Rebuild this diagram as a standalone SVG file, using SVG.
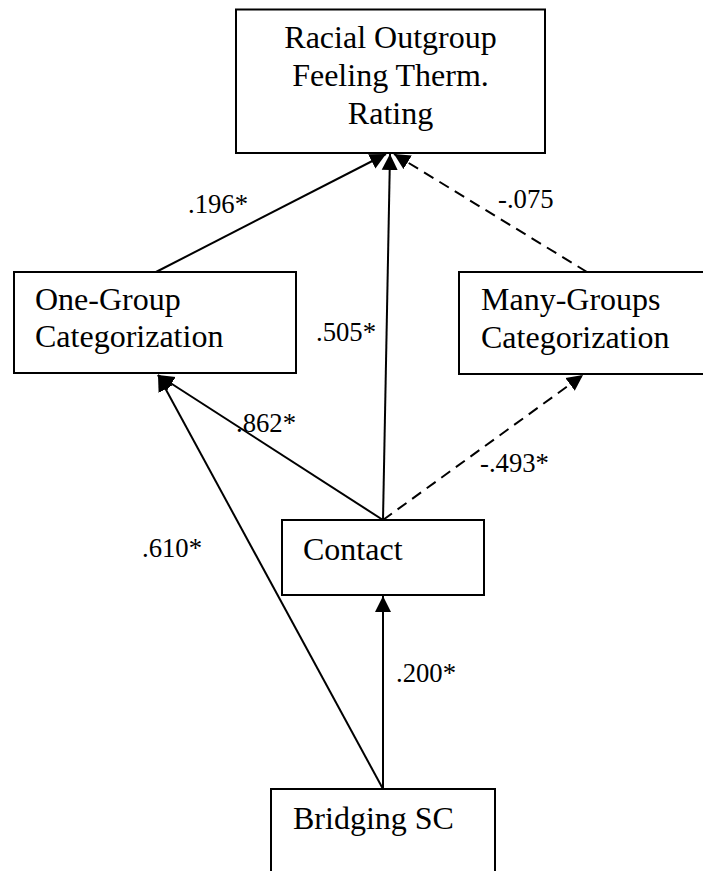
<svg xmlns="http://www.w3.org/2000/svg" width="703" height="871" viewBox="0 0 703 871">
  <style>
    .box { fill: #ffffff; stroke: #000000; stroke-width: 2; }
    .node { font-family: "Liberation Serif", "Times New Roman", serif; font-size: 32px; fill: #000000; }
    .coef { font-family: "Liberation Serif", "Times New Roman", serif; font-size: 26.7px; fill: #000000; }
    .path { fill: none; stroke: #000000; stroke-width: 2; }
    .dashed { stroke-dasharray: 11 7; }
  </style>
  <defs>
    <marker id="arrow" markerUnits="userSpaceOnUse" markerWidth="18" markerHeight="17" viewBox="0 0 18 17" refX="16" refY="8.5" orient="auto">
      <path d="M0,0.5 L16,8.5 L0,16.5 Z" fill="#000000" stroke="none"/>
    </marker>
  </defs>

  <rect width="703" height="871" fill="#ffffff"/>

  <!-- path coefficients and connectors -->
  <g id="connectors">
    <path class="path" d="M156,272 L386,154" marker-end="url(#arrow)"/>
    <path class="path" d="M383,520 L390,154" marker-end="url(#arrow)"/>
    <path class="path dashed" d="M587,272 L394,154" marker-end="url(#arrow)"/>
    <path class="path" d="M383,520 L158,375" marker-end="url(#arrow)"/>
    <path class="path" d="M383,789 L158,375" marker-end="url(#arrow)"/>
    <path class="path dashed" d="M383,520 L583,375" marker-end="url(#arrow)"/>
    <path class="path" d="M383,789 L383,596" marker-end="url(#arrow)"/>

    <text class="coef" x="188" y="213">.196*</text>
    <text class="coef" x="498" y="208">-.075</text>
    <text class="coef" x="316" y="341">.505*</text>
    <text class="coef" x="236" y="432">.862*</text>
    <text class="coef" x="480" y="472">-.493*</text>
    <text class="coef" x="142" y="557">.610*</text>
    <text class="coef" x="396" y="682">.200*</text>
  </g>

  <g id="rating">
    <rect class="box" x="236" y="9.5" width="309" height="143.5"/>
    <text class="node" x="390.5" y="48" text-anchor="middle">Racial Outgroup</text>
    <text class="node" x="390.5" y="86" text-anchor="middle">Feeling Therm.</text>
    <text class="node" x="390.5" y="124" text-anchor="middle">Rating</text>
  </g>

  <g id="one-group">
    <rect class="box" x="14" y="272" width="282" height="101"/>
    <text class="node" x="35" y="310">One-Group</text>
    <text class="node" x="35" y="347">Categorization</text>
  </g>

  <g id="many-groups">
    <rect class="box" x="459" y="272" width="256" height="102"/>
    <text class="node" x="481" y="310">Many-Groups</text>
    <text class="node" x="481" y="348">Categorization</text>
  </g>

  <g id="contact">
    <rect class="box" x="282" y="520" width="202" height="75"/>
    <text class="node" x="303" y="560">Contact</text>
  </g>

  <g id="bridging">
    <rect class="box" x="271" y="789" width="224" height="100"/>
    <text class="node" x="293" y="829">Bridging SC</text>
  </g>
</svg>
